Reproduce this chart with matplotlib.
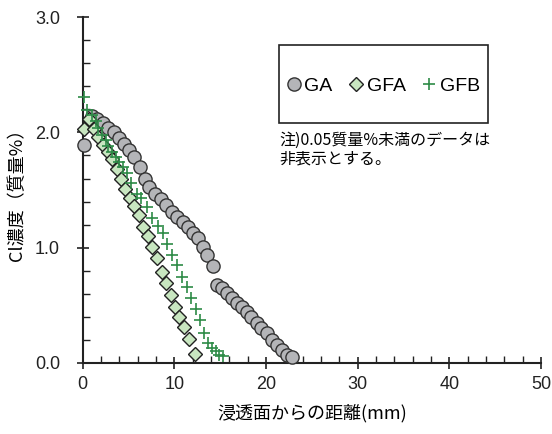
import matplotlib
matplotlib.use("Agg")
import matplotlib.pyplot as plt
from matplotlib.patches import Rectangle
from matplotlib.ticker import MultipleLocator, FormatStrFormatter

plt.rcParams['font.family'] = ['Liberation Sans', 'Noto Sans CJK JP', 'DejaVu Sans']

ga_x = [0.1, 1.0, 1.6, 2.2, 2.8, 3.4, 3.9, 4.5, 5.0, 5.6, 6.2, 6.8, 7.2, 7.9, 8.5, 9.1, 9.7, 10.3,
        10.9, 11.5, 12.0, 12.6, 13.1, 13.6, 14.2, 14.6, 15.2, 15.7, 16.3, 16.8, 17.4, 17.9, 18.4,
        19.0, 19.5, 20.1, 20.6, 21.2, 21.7, 22.3, 22.8]
ga_y = [1.89, 2.14, 2.12, 2.08, 2.04, 2.00, 1.95, 1.90, 1.85, 1.79, 1.70, 1.60, 1.53, 1.47, 1.42,
        1.37, 1.31, 1.27, 1.22, 1.18, 1.13, 1.08, 1.01, 0.94, 0.84, 0.68, 0.65, 0.61, 0.56, 0.52,
        0.49, 0.44, 0.40, 0.35, 0.30, 0.26, 0.20, 0.16, 0.11, 0.07, 0.05]

gfa_x = [0.1, 0.7, 1.2, 1.7, 2.2, 2.7, 3.2, 3.7, 4.2, 4.6, 5.1, 5.6, 6.1, 6.6, 7.1, 7.6, 8.1, 8.6,
         9.1, 9.6, 10.1, 10.5, 11.0, 11.6, 12.2]
gfa_y = [2.03, 2.12, 2.03, 1.96, 1.89, 1.83, 1.77, 1.68, 1.60, 1.51, 1.43, 1.36, 1.28, 1.18, 1.10,
         1.01, 0.91, 0.79, 0.69, 0.59, 0.49, 0.40, 0.31, 0.21, 0.08]

gfb_x = [0.1, 0.5, 1.0, 1.4, 1.7, 2.1, 2.5, 2.8, 3.2, 3.6, 4.0, 4.4, 4.8, 5.3, 5.9, 6.4, 7.0, 7.6,
         8.2, 8.7, 9.2, 9.7, 10.3, 10.8, 11.4, 11.8, 12.3, 12.8, 13.2, 13.7, 14.1, 14.5, 14.9, 15.3]
gfb_y = [2.31, 2.19, 2.15, 2.10, 2.04, 1.98, 1.93, 1.88, 1.83, 1.79, 1.74, 1.70, 1.65, 1.56, 1.47,
         1.43, 1.35, 1.26, 1.19, 1.13, 1.03, 0.94, 0.85, 0.75, 0.66, 0.56, 0.47, 0.37, 0.26, 0.17,
         0.13, 0.10, 0.07, 0.06]

series_names = ['GA', 'GFA', 'GFB']
xlabel = '浸透面からの距離(mm)'
ylabel = 'Cl濃度（質量%）'
note = '注)0.05質量%未満のデータは\n非表示とする。'

fig = plt.figure(figsize=(5.52, 4.34), dpi=100)
ax = fig.add_axes([0.150, 0.1636, 0.830, 0.797])

h1, = ax.plot(ga_x, ga_y, 'o', ms=9.5, mfc='#b4b5b8', mec='#333333', mew=1.0, label=series_names[0],
              zorder=3, clip_on=False)
h2, = ax.plot(gfa_x, gfa_y, 'D', ms=7, mfc='#c8e6c0', mec='#222222', mew=1.0, label=series_names[1],
              zorder=4, clip_on=False)
h3, = ax.plot(gfb_x, gfb_y, '+', ms=9, mec='#2e8b47', mew=1.2, label=series_names[2],
              zorder=5, clip_on=False)

ax.set_xlim(0, 50)
ax.set_ylim(0, 3.0)
ax.xaxis.set_major_locator(MultipleLocator(10))
ax.xaxis.set_minor_locator(MultipleLocator(2))
ax.yaxis.set_major_locator(MultipleLocator(1.0))
ax.yaxis.set_minor_locator(MultipleLocator(0.2))
ax.yaxis.set_major_formatter(FormatStrFormatter('%.1f'))
ax.spines['top'].set_visible(False)
ax.spines['right'].set_visible(False)
for s in ['left', 'bottom']:
    ax.spines[s].set_linewidth(1.5)
    ax.spines[s].set_color('#222222')
ax.tick_params(which='major', direction='inout', length=9, width=1.2, labelsize=13, colors='#222222')
ax.tick_params(which='minor', direction='in', length=5, width=1.0, colors='#222222')
ax.tick_params(axis='x', which='major', pad=5)
ax.tick_params(axis='y', which='major', pad=12)

ax.set_xlabel(xlabel, fontsize=13, labelpad=8, family=['Noto Sans CJK JP'])
ax.set_ylabel(ylabel, fontsize=13, labelpad=6, family=['Noto Sans CJK JP'])

ax.add_patch(Rectangle((0.428, 0.694), 0.456, 0.225, transform=ax.transAxes, fill=False,
                       ec='#222222', lw=1.2, zorder=6))
leg = ax.legend(handles=[h1, h2, h3], ncol=3, loc='center', bbox_to_anchor=(0.655, 0.80),
                frameon=False, fontsize=14, handlelength=0.8, handletextpad=0.15, columnspacing=0.8,
                markerscale=1.0)
ax.text(0.430, 0.668, note, transform=ax.transAxes, fontsize=11.5, va='top', ha='left',
        family=['Noto Sans CJK JP'], linespacing=1.15)

fig.savefig('out.png', dpi=100)
